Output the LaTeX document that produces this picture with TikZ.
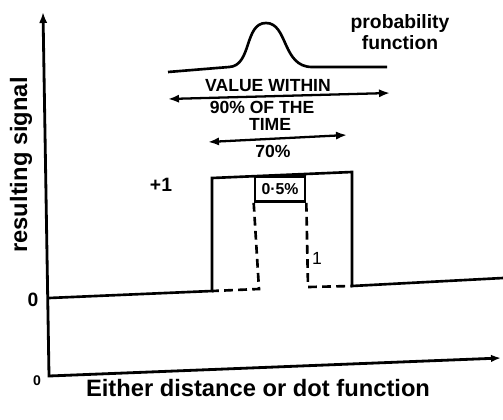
\documentclass[tikz,border=0pt]{standalone}
\usepackage{fontspec}
\setmainfont{Liberation Sans}
\usetikzlibrary{arrows.meta}
\tikzset{
 axis/.style={line width=1.6pt,{Latex[length=2.2mm]}-{Latex[length=2mm]}},
 sig/.style={line width=1.5pt},
 dsh/.style={line width=1.5pt,dash pattern=on 5pt off 3pt},
 span/.style={line width=1.3pt,{Latex[length=2.2mm]}-{Latex[length=2.2mm]}},
 lbl/.style={font=\fontsize{11}{12}\selectfont\bfseries,inner sep=0pt},
 capstext/.style={font=\fontsize{10}{11}\selectfont\bfseries,inner sep=0pt},
 big/.style={font=\fontsize{13.5}{15}\selectfont\bfseries,inner sep=0pt}
}

\begin{document}
\begin{tikzpicture}[x=0.02cm,y=-0.02cm]
\useasboundingbox (0,0) rectangle (503,419);
% axes
\coordinate (ytop) at (43,12);
\coordinate (orig) at (49,376);
\coordinate (xend) at (501,358);
\draw[axis] (ytop)--(orig)--(xend);
\node[lbl,font=\fontsize{8}{9}\selectfont\bfseries] (zx) at (37,381) {0};
\node[lbl] (zy) at (33,300) {0};
\node[big,rotate=90] (ylab) at (21,165) {resulting signal};
\node[big] (xlab) at (258,388) {Either distance or dot function};
% signal
\coordinate (s0) at (49,298);
\coordinate (p1) at (212,291);
\coordinate (p2) at (212,178);
\coordinate (p3) at (352,172);
\coordinate (p4) at (352,286);
\coordinate (s1) at (503,278);
\draw[sig] (s0)--(p1)--(p2)--(p3)--(p4)--(s1);
\node[lbl] (plus) at (161,185) {+1};
\node[draw,line width=1.5pt,minimum width=1cm,minimum height=0.5cm,inner sep=0pt,
      font=\fontsize{9}{10}\selectfont\bfseries] (half) at (280,189) {0·5\%};
\coordinate (q1) at (259,289);
\coordinate (q2) at (308,287);
\draw[dsh] (half.south west)--(q1)--(p1);
\draw[dsh] (half.south east)--(q2)--(p4);
\node[lbl,font=\fontsize{10}{11}\selectfont] (one) at (317,258) {1};
% probability curve
\coordinate (c0) at (168,72);
\coordinate (c1) at (229,67);
\coordinate (c2) at (312,67);
\coordinate (c3) at (387,67);
\draw[sig] (c0)--(c1) .. controls (252,66) and (244,23) .. (266,23)
  .. controls (288,23) and (282,67) .. (c2)--(c3);
\node[lbl,align=center] (prob) at (400,32) {probability\\function};
% spans
\coordinate (a1) at (168,99);
\coordinate (a2) at (390,93);
\draw[span] (a1)--(a2);
\node[capstext] (val) at (268,86) {VALUE WITHIN};
\node[capstext] (pct) at (262,107) {90\% OF THE};
\node[capstext] (time) at (270,124) {TIME};
\coordinate (b1) at (208,142);
\coordinate (b2) at (347,135);
\draw[span] (b1)--(b2);
\node[capstext] (svn) at (273,151) {70\%};
\end{tikzpicture}
\end{document}
